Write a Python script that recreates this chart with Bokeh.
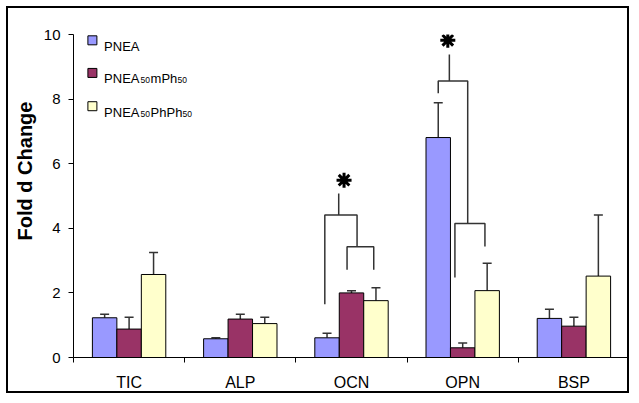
import numpy as np
from bokeh.plotting import figure
from bokeh.models import Range1d, FixedTicker, ColumnDataSource, Whisker, TeeHead
from bokeh.core.properties import value
from bokeh.embed import file_html
from bokeh.resources import INLINE

# ---------------- data ----------------
categories = ["TIC", "ALP", "OCN", "OPN", "BSP"]
pnea = [1.23, 0.58, 0.61, 6.81, 1.21]
pnea_err = [0.11, 0.03, 0.14, 1.08, 0.28]
mph = [0.88, 1.19, 2.00, 0.30, 0.97]
mph_err = [0.37, 0.15, 0.07, 0.15, 0.28]
phph = [2.57, 1.05, 1.76, 2.07, 2.52]
phph_err = [0.68, 0.20, 0.40, 0.85, 1.89]
colors = ["#9999FF", "#993366", "#FFFFCC"]
y_ticks = [0, 2, 4, 6, 8, 10]
y_label = "Fold d Change"

# significance brackets (x in category units, y in fold change)
bracket_xs = [[2.26, 2.26, 2.55, 2.55], [2.46, 2.46, 2.70, 2.70], [2.385, 2.385],
              [3.28, 3.28, 3.545, 3.545], [3.43, 3.43, 3.70, 3.70], [3.38, 3.38]]
bracket_ys = [[1.65, 4.41, 4.41, 3.43], [2.72, 3.43, 3.43, 2.72], [4.41, 5.08],
              [8.18, 8.56, 8.56, 4.15], [2.48, 4.15, 4.15, 3.44], [8.56, 9.38]]
star_x = [2.433, 3.366]
star_y = [5.49, 9.82]

FONT = "Liberation Sans"
BAR_W = 0.22

p = figure(width=623, height=387, x_range=Range1d(0, 5), y_range=Range1d(0, 10),
           output_backend="svg", toolbar_location=None,
           min_border_left=65, min_border_right=2, min_border_top=26, min_border_bottom=38)
p.styles = {"border": "2px solid black", "margin": "6px 0 0 6px"}
p.xgrid.visible = False
p.ygrid.visible = False
p.outline_line_color = None
p.background_fill_color = "white"
p.border_fill_color = "white"

series = [(pnea, pnea_err), (mph, mph_err), (phph, phph_err)]
for i, (vals, errs) in enumerate(series):
    off = (i - 1) * BAR_W
    xs = [k + 0.5 + off for k in range(len(categories))]
    p.vbar(x=xs, top=vals, width=BAR_W, fill_color=colors[i], line_color="black", line_width=1)
    src = ColumnDataSource(dict(base=xs, lower=vals, upper=[v + e for v, e in zip(vals, errs)]))
    w = Whisker(source=src, base="base", lower="lower", upper="upper",
                upper_head=TeeHead(size=9, line_color="#333333", line_width=1.5),
                lower_head=None, line_color="#333333", line_width=1.5)
    p.add_layout(w)

p.multi_line(xs=bracket_xs, ys=bracket_ys, line_color="#333333", line_width=1.5)
p.scatter(x=star_x, y=star_y, marker="asterisk", size=15, line_width=3, line_color="black")

# axes
p.xaxis.ticker = FixedTicker(ticks=[k + 0.5 for k in range(5)], minor_ticks=list(range(6)))
p.xaxis.major_label_overrides = {k + 0.5: c for k, c in enumerate(categories)}
p.xaxis.major_tick_out = 0
p.xaxis.major_tick_in = 0
p.xaxis.minor_tick_out = 5
p.xaxis.minor_tick_in = 0
p.xaxis.minor_tick_line_color = "black"
p.xaxis.major_label_standoff = 11
p.xaxis.major_label_text_font = FONT
p.xaxis.major_label_text_font_size = "16px"
p.xaxis.major_label_text_color = "black"
p.xaxis.axis_line_color = "black"

p.yaxis.ticker = FixedTicker(ticks=y_ticks)
p.yaxis.major_tick_out = 5
p.yaxis.major_tick_in = 0
p.yaxis.minor_tick_out = 0
p.yaxis.minor_tick_in = 0
p.yaxis.major_tick_line_color = "black"
p.yaxis.major_label_standoff = 8
p.yaxis.major_label_text_font = FONT
p.yaxis.major_label_text_font_size = "15px"
p.yaxis.major_label_text_color = "black"
p.yaxis.axis_line_color = "black"
# leading no-break spaces shift the centred title upwards, as in the original
p.yaxis.axis_label = "\u00a0" * 9 + y_label
p.yaxis.axis_label_text_font = FONT
p.yaxis.axis_label_text_font_style = "bold"
p.yaxis.axis_label_text_font_size = "20px"
p.yaxis.axis_label_text_color = "black"
p.yaxis.axis_label_standoff = 5

# legend (drawn manually to allow subscripts)
leg_sq_y = [9.82, 8.81, 7.78]
leg_base_y = [9.64, 8.63, 7.60]
p.scatter(x=[0.17] * 3, y=leg_sq_y, marker="square", size=9, fill_color=colors,
          line_color="black", line_width=1)
main_txt = ["PNEA", "PNEA", "mPh", "PNEA", "PhPh"]
main_y = [leg_base_y[0], leg_base_y[1], leg_base_y[1], leg_base_y[2], leg_base_y[2]]
main_off = [0, 0, 46.5, 0, 46.5]
p.text(x=[0.275] * 5, y=main_y, text=main_txt, x_offset=main_off,
       text_font=value(FONT), text_font_size="13px", text_color="black",
       text_baseline="alphabetic", text_align="left")
sub_txt = ["50", "50", "50", "50"]
sub_y = [leg_base_y[1] - 0.05] * 2 + [leg_base_y[2] - 0.05] * 2
sub_off = [36.5, 73.5, 36.5, 78.5]
p.text(x=[0.275] * 4, y=sub_y, text=sub_txt, x_offset=sub_off,
       text_font=value(FONT), text_font_size="8.5px", text_color="black",
       text_baseline="alphabetic", text_align="left")

open("out.html", "w").write(file_html(p, INLINE))
